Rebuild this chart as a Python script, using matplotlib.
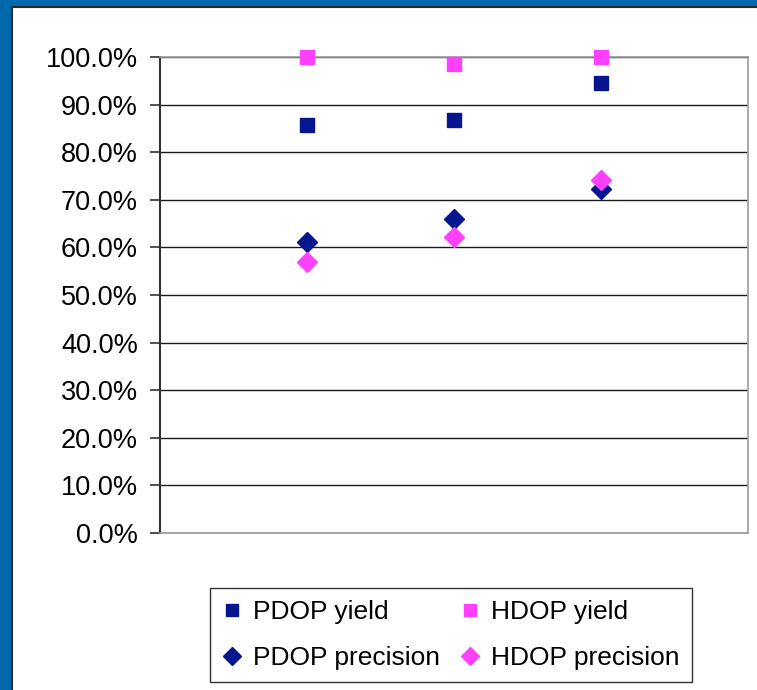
import matplotlib
matplotlib.use('Agg')
import matplotlib.pyplot as plt
from matplotlib.patches import Rectangle
from matplotlib.ticker import PercentFormatter

# one x slot per run, values in percent
runs = [1, 2, 3]
pdop_yield = [85.7, 86.8, 94.5]
hdop_yield = [100.0, 98.6, 100.0]
pdop_precision = [61.1, 66.0, 72.3]
hdop_precision = [56.9, 62.2, 74.2]

navy = '#06168f'
pink = '#ff40ff'

plt.rcParams['font.family'] = ['Liberation Sans', 'DejaVu Sans']

fig = plt.figure(figsize=(7.57, 6.90), dpi=100)
fig.patch.set_facecolor('#0068ac')

# white slide panel with a dark edge on the top and left
panel = Rectangle((12 / 757, -0.1), 1.2, 1.1 - 7 / 690, transform=fig.transFigure,
                  facecolor='white', edgecolor='#2a2a2a', linewidth=1.5, zorder=-10)
fig.patches.append(panel)

ax = fig.add_axes([160 / 757, 1 - 533 / 690, 588 / 757, 476 / 690])
ax.set_zorder(5)
ax.set_facecolor('white')

ax.plot(runs, pdop_yield, linestyle='none', marker='s', ms=9.5, color=navy,
        label='PDOP yield', clip_on=False, zorder=3)
ax.plot(runs, pdop_precision, linestyle='none', marker='D', ms=10, color=navy,
        label='PDOP precision', clip_on=False, zorder=3)
ax.plot(runs, hdop_yield, linestyle='none', marker='s', ms=9.5, color=pink,
        label='HDOP yield', clip_on=False, zorder=3)
ax.plot(runs, hdop_precision, linestyle='none', marker='D', ms=10, color=pink,
        label='HDOP precision', clip_on=False, zorder=3)

ax.set_xlim(0, 4)
ax.set_ylim(0, 100)
ax.set_yticks(range(0, 101, 10))
ax.yaxis.set_major_formatter(PercentFormatter(decimals=1))
ax.set_xticks([])
ax.grid(axis='y', color='#1a1a1a', linewidth=1.0, zorder=1)
ax.set_axisbelow(True)

ax.tick_params(axis='y', length=7, width=1.2, color='#333333', pad=9,
               labelsize=19.5)
for side in ['top', 'right', 'bottom']:
    ax.spines[side].set_color('#9a9a9a')
    ax.spines[side].set_linewidth(1.2)
ax.spines['left'].set_color('#333333')
ax.spines['left'].set_linewidth(1.5)

leg = ax.legend(ncol=2, loc='center', bbox_to_anchor=(451 / 757, 1 - 635 / 690),
                bbox_transform=fig.transFigure, fontsize=19, frameon=True,
                fancybox=False, edgecolor='black', markerscale=0.9,
                handlelength=0.7, handletextpad=0.45, columnspacing=0.8,
                labelspacing=0.85, borderpad=0.45, borderaxespad=0)
leg.get_frame().set_linewidth(1.0)

fig.savefig('out.png', dpi=100, facecolor=fig.get_facecolor())
